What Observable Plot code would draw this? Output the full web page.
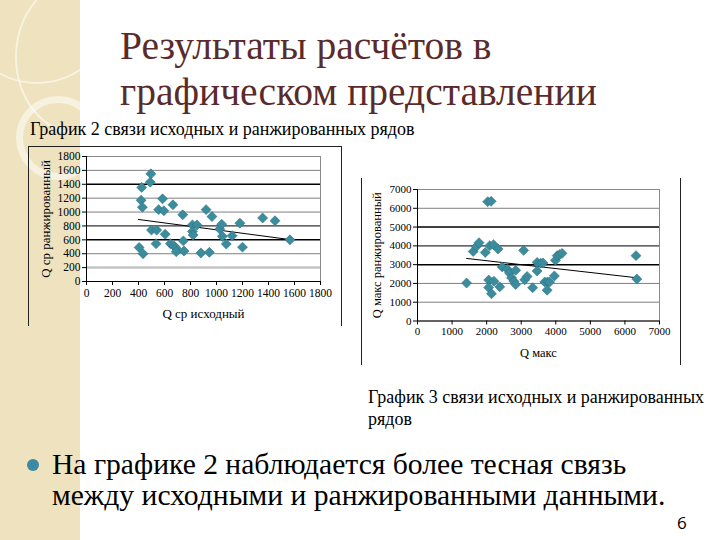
<!DOCTYPE html>
<html><head><meta charset="utf-8">
<script src="https://cdn.jsdelivr.net/npm/d3@7"></script>
<script src="https://cdn.jsdelivr.net/npm/@observablehq/plot@0.6"></script>
<style>
body{margin:0;background:#fff;}
#page{position:relative;width:720px;height:540px;overflow:hidden;background:#fff;font-family:"Liberation Serif","Times New Roman",serif;}
.t{position:absolute;white-space:nowrap;}
.ring{position:absolute;border-radius:50%;border-style:solid;border-color:rgba(255,255,255,0.55);}
#c1 svg, #c2 svg {font-family:"Liberation Serif","Times New Roman",serif !important;}
</style></head><body>
<div id="page">
  <div style="position:absolute;left:0;top:0;width:80px;height:540px;background:#efe2be;overflow:hidden">
    <div class="ring" style="left:-40px;top:-70px;width:150px;height:150px;border-width:2px;"></div>
    <div class="ring" style="left:15px;top:-20px;width:120px;height:150px;border-width:2px;"></div>
    <div class="ring" style="left:16px;top:96px;width:70px;height:70px;border-width:7px;border-color:rgba(255,255,255,0.5);"></div>
  </div>
  <div class="t" style="left:120px;top:23px;font-size:39.5px;line-height:46px;color:#5a2b2b;">Результаты расчётов в</div>
  <div class="t" style="left:120px;top:69px;font-size:39.5px;line-height:46px;color:#5a2b2b;">графическом представлении</div>
  <div class="t" style="left:30px;top:119px;font-size:18px;line-height:21px;color:#000;">График 2 связи исходных и ранжированных рядов</div>
  <div id="c1" style="position:absolute;left:28px;top:146px;width:314px;height:180px;border-left:1px solid #222;border-top:1px solid #222;border-right:1px solid #222;box-sizing:border-box;border-bottom:none;"></div>
  <div id="c2" style="position:absolute;left:361px;top:178px;width:320px;height:187px;border-left:1px solid #222;border-right:1px solid #222;box-sizing:border-box;"></div>
  <div class="t" style="left:368px;top:386px;font-size:18px;line-height:22px;color:#000;">График 3 связи исходных и ранжированных<br>рядов</div>
  <div style="position:absolute;left:27px;top:459px;width:12px;height:12px;border-radius:50%;background:#3a8aa6;"></div>
  <div class="t" style="left:52px;top:449px;font-size:29.6px;line-height:30.5px;color:#000;">На графике 2 наблюдается более тесная связь<br>между исходными и ранжированными данными.</div>
  <div class="t" style="left:677px;top:512px;font-size:17px;line-height:22px;font-family:'Open Sans','DejaVu Sans',sans-serif;color:#000;">6</div>
</div>
<script>
// ---- Chart 2 data (Q ср) ----
const q1x = [405,435,425,420,430,495,490,500,540,535,555,585,595,605,645,665,675,690,690,740,745,750,815,815,820,850,880,920,945,965,1025,1040,1045,1075,1120,1180,1200,1355,1450,1565];
const q1y = [490,400,1355,1170,1070,1550,1430,740,740,545,1035,1190,1020,680,545,1105,510,480,430,960,585,440,815,720,670,815,410,1035,420,935,755,825,650,540,660,840,495,915,875,600];
const trend1x = [400,1560];
const trend1y = [893,605];
const ticks1 = [0,200,400,600,800,1000,1200,1400,1600,1800];
const xLabel1 = "Q ср исходный";
const yLabel1 = "Q ср ранжированный";

// ---- Chart 3 data (Q макс) ----
const q2x = [1420,1610,1700,1780,1960,2030,2130,2090,2200,2330,2060,2060,2140,2210,2380,2450,2600,2660,2720,2790,2840,2840,3070,3100,3170,3330,3460,3460,3560,3630,3680,3760,3750,3820,3960,3990,4040,4110,4180,6320,6345];
const q2y = [2020,3700,3960,4170,3650,6350,6370,4010,4060,3830,2180,1780,1450,2120,1820,2880,2760,2560,2300,2110,1940,2700,3760,2190,2370,1770,3120,2660,3080,3090,2080,2080,1640,2070,2400,3230,3480,3530,3600,3480,2230];
const trend2x = [1420,6350];
const trend2y = [3330,2300];
const ticks2 = [0,1000,2000,3000,4000,5000,6000,7000];
const xLabel2 = "Q макс";
const yLabel2 = "Q макс ранжированный";

const teal = "#3b8c9d";

function scatter({xs, ys, tx, ty, ticks, xl, yl, width, height, mL, mR, mT, mB, black, dark, light, fs, xLabOff, yLabOff, tickPadX}) {
  const pts = xs.map((x,i)=>({x, y: ys[i]}));
  const tr = tx.map((x,i)=>({x, y: ty[i]}));
  const max = ticks[ticks.length-1];
  const inner = ticks.filter(v => v>0 && v<max);
  const fmt = d => String(d);
  return Plot.plot({
    width, height, marginLeft:mL, marginRight:mR, marginTop:mT, marginBottom:mB,
    x:{domain:[0,max]}, y:{domain:[0,max]},
    style:{"font-family":"'Liberation Serif','Times New Roman',serif", "font-size": fs+"px", "background":"transparent", "overflow":"visible", "color":"#000"},
    marks:[
      Plot.frame({stroke:"#8a8a8a"}),
      Plot.ruleY(inner.filter(v=>!black.includes(v) && !dark.includes(v) && !light.includes(v)), {stroke:"#7f7f7f", strokeWidth:1}),
      Plot.ruleY(inner.filter(v=>dark.includes(v)), {stroke:"#333", strokeWidth:1.2}),
      Plot.ruleY(inner.filter(v=>black.includes(v)), {stroke:"#000", strokeWidth:1.5}),
      Plot.ruleY(inner.filter(v=>light.includes(v)), {stroke:"#c4c4c4", strokeWidth:2.5}),
      Plot.ruleX([0], {stroke:"#000"}),
      Plot.ruleY([0], {stroke:"#000"}),
      Plot.axisX(ticks, {tickSize:4, tickPadding:tickPadX, label:null, tickFormat:fmt, fontSize:fs}),
      Plot.axisY(ticks, {tickSize:4, tickPadding:2, label:null, tickFormat:fmt, fontSize:fs}),
      Plot.line(tr, {x:"x", y:"y", stroke:"#000", strokeWidth:1}),
      Plot.dot(pts, {x:"x", y:"y", symbol:"diamond2", r:4.5, fill:teal, stroke:"#2e7484", strokeWidth:0.6}),
      Plot.text([xl], {frameAnchor:"bottom", dy:xLabOff, lineAnchor:"middle", fontSize:fs+1.5}),
      Plot.text([yl], {frameAnchor:"left", dx:-yLabOff, rotate:-90, textAnchor:"middle", lineAnchor:"middle", fontSize:fs+1.5})
    ]
  });
}

document.getElementById("c1").append(scatter({
  xs:q1x, ys:q1y, tx:trend1x, ty:trend1y, ticks:ticks1, xl:xLabel1, yl:yLabel1,
  width:312, height:179, mL:57, mR:21, mT:9, mB:45,
  black:[1400,600], dark:[800], light:[200], fs:11.5, xLabOff:32, yLabOff:41, tickPadX:3
}));
document.getElementById("c2").append(scatter({
  xs:q2x, ys:q2y, tx:trend2x, ty:trend2y, ticks:ticks2, xl:xLabel2, yl:yLabel2,
  width:318, height:187, mL:55, mR:21, mT:11, mB:44.5,
  black:[5000,3000], dark:[4000], light:[], fs:11, xLabOff:31.5, yLabOff:41, tickPadX:2
}));
</script>
</body></html>
